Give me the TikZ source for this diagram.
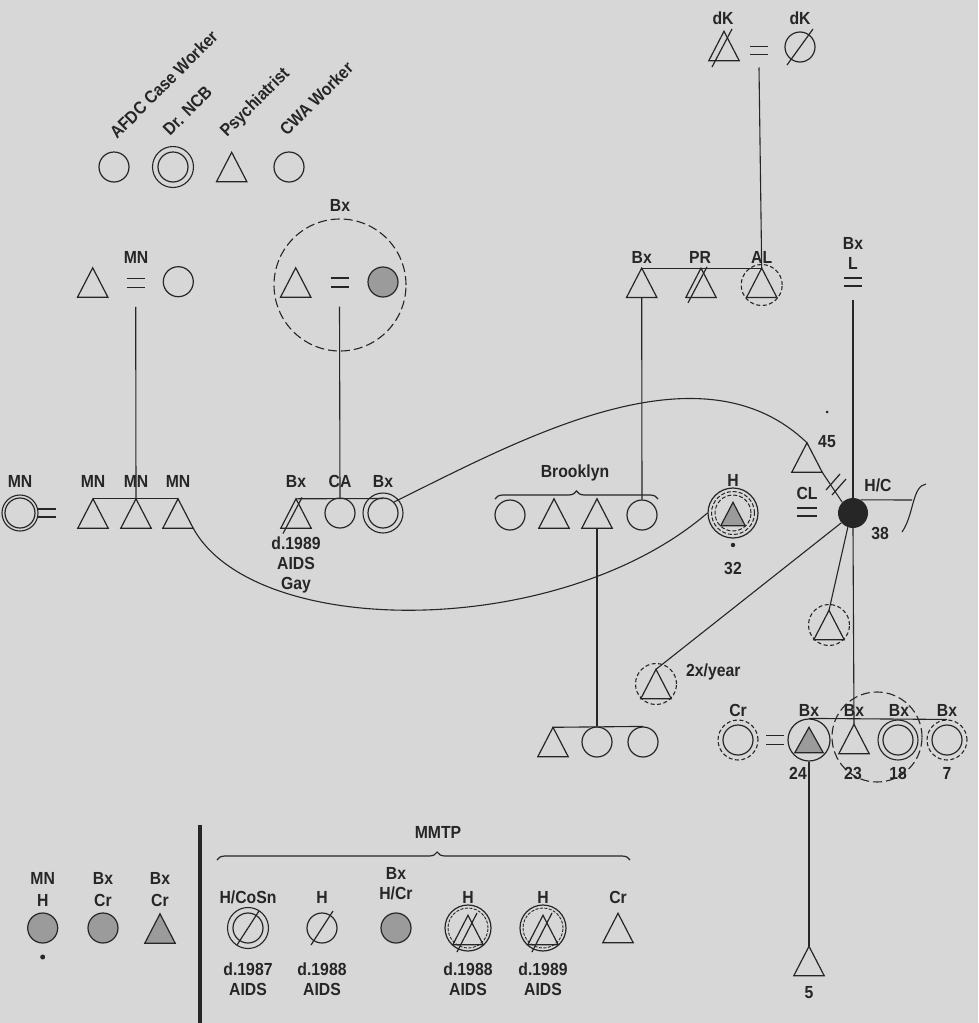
\documentclass[tikz,border=0pt]{standalone}
\usepackage{fontspec}
\newfontfamily\lf{Liberation Sans}[FakeStretch=0.9]
\usetikzlibrary{decorations.pathreplacing,calc}
\definecolor{bg}{RGB}{215,215,215}
\definecolor{inkc}{RGB}{38,38,38}
\definecolor{shade}{RGB}{155,155,155}
\newcommand\tri[3][]{\node[tribox] (#2) at (#3) {};
  \draw[ink,#1] (#2.north) -- (#2.south east) -- (#2.south west) -- cycle;}
\newcommand\eqs[3]{\coordinate (#1) at (#2);
  \draw[ink] ([shift={(-9,-#3/2)}]#1) -- ([shift={(9,-#3/2)}]#1);
  \draw[ink] ([shift={(-9,#3/2)}]#1) -- ([shift={(9,#3/2)}]#1);}
\begin{document}
\begin{tikzpicture}[x=1pt,y=-1pt,
  ink/.style={draw=inkc,line width=1.2pt},
  conn/.style={draw=inkc,line width=1.1pt},
  circ/.style={circle,draw=inkc,line width=1.2pt,minimum size=30pt,inner sep=0pt},
  ring/.style={circle,draw=inkc,line width=1.1pt,minimum size=41pt,inner sep=0pt},
  dring/.style={ring,dash pattern=on 4pt off 2.5pt},
  tribox/.style={rectangle,draw=none,minimum width=30pt,minimum height=29pt,inner sep=0pt},
  lbl/.style={font=\lf\bfseries\fontsize{17.5}{20}\selectfont,inner sep=0pt,text=inkc,align=center},
  shaded/.style={fill=shade},
  brc/.style={ink,decorate,decoration={brace,amplitude=8pt}}]
\fill[bg] (0,0) rectangle (978,1023);
\useasboundingbox (0,0) rectangle (978,1023);

% ---------- top legend ----------
\node[circ] (afdc) at (114,167) {};
\node[ring] (ncbo) at (173,167) {};
\node[circ] (ncb) at (173,167) {};
\tri{psy}{231.7,167}
\node[circ] (cwa) at (289,167) {};
\node[lbl,rotate=45,anchor=base west] (lafdc) at (117,140) {AFDC Case Worker};
\node[lbl,rotate=45,anchor=base west] (lncb) at (170,137) {Dr. NCB};
\node[lbl,rotate=45,anchor=base west] (lpsy) at (227,138) {Psychiatrist};
\node[lbl,rotate=45,anchor=base west] (lcwa) at (287,137) {CWA Worker};

% ---------- MN couple ----------
\tri{mnf}{92.7,282.5}
\eqs{mneq}{135.7,282.8}{9}
\node[circ] (mnm) at (178.3,281.7) {};
\node[lbl] (lmn) at (136,257) {MN};

% ---------- Bx couple ----------
\node[circle,draw=inkc,line width=1.1pt,dash pattern=on 9pt off 4pt,minimum size=132pt] (bxring) at (340,285) {};
\tri{bxf}{295.7,282.5}
\eqs{bxeq}{339.5,282.5}{9}
\node[circ,shaded] (bxm) at (383,282) {};
\node[lbl] (lbxr) at (340,205) {Bx};

% ---------- Bx PR AL ----------
\tri{bxs}{641.7,282.8}
\tri{pr}{701,282.8}
\draw[ink] ([shift={(-13,20)}]pr.center) -- ([shift={(6,-16)}]pr.center);
\tri{al}{761.7,282.8}
\node[dring] (alr) at (761.7,285) {};
\node[lbl] (lbxs) at (641.7,257) {Bx};
\node[lbl] (lpr) at (700,257) {PR};
\node[lbl] (lal) at (761.7,257) {AL};
\draw[conn] (bxs.north) -- (al.north);

% ---------- dK couple ----------
\tri{dk1}{724,46}
\draw[ink] ([shift={(-12,21)}]dk1.center) -- ([shift={(8,-17)}]dk1.center);
\eqs{dkeq}{759,50.5}{7.5}
\node[circ] (dk2) at (800,47) {};
\draw[ink] ([shift={(-13,18)}]dk2.center) -- ([shift={(13,-18)}]dk2.center);
\node[lbl] (ldk1) at (723,18) {dK};
\node[lbl] (ldk2) at (800,18) {dK};
\draw[conn] ([yshift=-17pt]dkeq) -- (al.north);

% ---------- L ----------
\node[lbl] (lbxl) at (853,243) {Bx};
\node[lbl] (ll) at (853,263) {L};
\eqs{leq}{853,282}{8}

% ---------- main row: MN ----------
\node[circ] (mnw) at (20,513) {};
\node[circle,draw=inkc,line width=1.1pt,minimum size=36pt,inner sep=0pt] (mnwo) at (20,513) {};
\eqs{mnweq}{47,513}{8}
\tri{mn1}{93,513.5}
\tri{mn2}{136,513.5}
\tri{mn3}{178,513.5}
\node[lbl] at (20,481) {MN};
\node[lbl] at (93,481) {MN};
\node[lbl] at (136,481) {MN};
\node[lbl] at (178,481) {MN};
\draw[conn] (mn1.north) -- (mn3.north);
\draw[conn] ([yshift=-24pt]mneq) -- (mn2.north);

% ---------- main row: Bx CA Bx ----------
\tri{bx1}{296,513.5}
\draw[ink] ([shift={(-13,20)}]bx1.center) -- ([shift={(6,-16)}]bx1.center);
\node[circ] (ca) at (340,513) {};
\node[ring,minimum size=40pt] (bx3o) at (383,513) {};
\node[circ] (bx3) at (383,513) {};
\node[lbl] at (296,481) {Bx};
\node[lbl] at (340,481) {CA};
\node[lbl] at (383,481) {Bx};
\node[lbl] (dbx1) at (296,565) {d.1989\\AIDS\\Gay};
\coordinate (bx3top) at (383,498.5);
\draw[conn] (bx1.north) -- (bx3top);
\draw[conn] ([yshift=-24pt]bxeq) -- (ca.north);

% ---------- Brooklyn ----------
\node[circ] (br1) at (510,515) {};
\tri{br2}{554,513.5}
\tri{br3}{597,513.5}
\node[circ] (br4) at (642,515) {};
\draw[brc] (495,499) -- (658,499);
\node[lbl] (lbr) at (575,473) {Brooklyn};
\draw[conn] (bxs.south) -- (br4.north);

% ---------- H node ----------
\node[circle,draw=inkc,line width=1.2pt,minimum size=50pt,inner sep=0pt] (h32) at (733,513) {};
\node[circle,draw=inkc,line width=1pt,dash pattern=on 4pt off 2pt,minimum size=43pt,inner sep=0pt] (h32b) at (733,513) {};
\node[circle,draw=inkc,line width=1pt,dash pattern=on 4pt off 2pt,minimum size=36pt,inner sep=0pt] (h32c) at (733,513) {};
\node[tribox,minimum width=24pt,minimum height=23pt] (h32t) at (733,514) {};
\draw[ink,fill=shade] (h32t.north) -- (h32t.south east) -- (h32t.south west) -- cycle;
\fill[inkc] (733,545) circle[radius=2.2];
\node[lbl] (lh) at (733,480) {H};
\node[lbl] (l32) at (733,568) {32};

% ---------- 45 / CL / 38 ----------
\tri{t45}{807,457.5}
\node[lbl] (l45) at (827,442) {45};
\fill[inkc] (827,412) circle[radius=1.5];
\node[circle,fill=inkc,minimum size=30pt,inner sep=0pt] (hc) at (853,513) {};
\node[lbl] (lhc) at (878,485) {H/C};
\node[lbl] (l38) at (880,533) {38};
\node[lbl] (lcl) at (807,493) {CL};
\draw[inkc,line width=2.4pt] (797,508) -- (817,508);
\draw[inkc,line width=2.4pt] (797,516) -- (817,516);
\draw[conn] (t45.south east) -- (hc.135);
\draw[ink] (826,490) -- (840,474);
\draw[ink] (832,495) -- (846,479);
\draw[conn] ([yshift=-18pt]leq) -- (hc.north);
\coordinate (hcend) at (912,500);
\draw[conn] (hc.60) -- (hcend);
\draw[conn] (926,484) .. controls (912,486) and (914,515) .. (902,532);

% ---------- curves ----------
\draw[conn] (bx3.45) .. controls (520,440) and (700,340) .. (t45.north);
\draw[conn] (mn3.south east) .. controls (255,640) and (560,640) .. (h32.west);

% ---------- children of Brooklyn ----------
\tri{k1}{553,742}
\node[circ] (k2) at (597,742) {};
\node[circ] (k3) at (643,742) {};
\draw[conn] (k1.north) -- (k3.north);
\draw[conn] (br3.south) -- (k2.north);

% ---------- 2x/year and dashed triangle ----------
\tri{tw}{656,684}
\node[dring] (twr) at (656,684) {};
\node[lbl,anchor=west] (ltw) at (686,672) {2x/year};
\draw[conn] (tw.north) -- (hc.220);
\tri{td}{829,625}
\node[dring] (tdr) at (829,625) {};
\draw[conn] (td.north) -- (hc.250);

% ---------- bottom right row ----------
\node[circ] (cr) at (738,740) {};
\node[dring,minimum size=40pt] (crr) at (738,740) {};
\eqs{creq}{775,740}{9}
\node[circle,draw=inkc,line width=1.2pt,minimum size=42pt,inner sep=0pt] (b24) at (809,740) {};
\node[tribox,minimum width=28pt,minimum height=25pt] (b24t) at (809,740) {};
\draw[ink,fill=shade] (b24t.north) -- (b24t.south east) -- (b24t.south west) -- cycle;
\tri{b23}{854,739}
\node[ring,minimum size=40pt] (b18o) at (898,740) {};
\node[circ] (b18) at (898,740) {};
\node[dring,minimum size=40pt] (b7o) at (947,740) {};
\node[circ] (b7) at (947,740) {};
\node[circle,draw=inkc,line width=1.1pt,dash pattern=on 9pt off 4pt,minimum size=90pt] (sibr) at (877,737) {};
\node[lbl] at (738,710) {Cr};
\node[lbl] at (809,710) {Bx};
\node[lbl] at (854,710) {Bx};
\node[lbl] at (899,710) {Bx};
\node[lbl] at (947,710) {Bx};
\node[lbl] at (798,773) {24};
\node[lbl] at (853,773) {23};
\node[lbl] at (898,773) {18};
\node[lbl] at (947,773) {7};
\draw[conn] (b24.north) -- (b7o.north);
\draw[conn] (hc.south) -- (b23.north);
\tri{b5}{809,961}
\node[lbl] at (809,993) {5};
\draw[conn] (b24.south) -- (b5.north);

% ---------- bottom legend ----------
\node[circ,shaded] (lg1) at (42.7,928) {};
\fill[inkc] (42.7,957) circle[radius=2.5];
\node[lbl] at (42.7,878) {MN};
\node[lbl] at (42.7,900) {H};
\node[circ,shaded] (lg2) at (103,928) {};
\node[lbl] at (103,878) {Bx};
\node[lbl] at (103,900) {Cr};
\tri[fill=shade]{lg3}{160,928.5}
\node[lbl] at (160,878) {Bx};
\node[lbl] at (160,900) {Cr};
\draw[inkc,line width=4pt] (200,825) -- (200,1023);
\draw[ink,decorate,decoration={brace,amplitude=8pt,aspect=0.533}] (217,860) -- (630,860);
\node[lbl] (lmmtp) at (438,832) {MMTP};
% H/CoSn
\node[ring] (m1o) at (248,928) {};
\node[circ] (m1) at (248,928) {};
\draw[ink] ([shift={(-11,17)}]m1.center) -- ([shift={(11,-17)}]m1.center);
\node[lbl] at (248,897) {H/CoSn};
\node[lbl] at (248,979) {d.1987\\AIDS};
% H
\node[circ] (m2) at (322,928) {};
\draw[ink] ([shift={(-11,17)}]m2.center) -- ([shift={(11,-17)}]m2.center);
\node[lbl] at (322,897) {H};
\node[lbl] at (322,979) {d.1988\\AIDS};
% Bx H/Cr
\node[circ,shaded] (m3) at (396,928) {};
\node[lbl] at (396,884) {Bx\\H/Cr};
% H d.1988
\node[circle,draw=inkc,line width=1.2pt,minimum size=46pt,inner sep=0pt] (m4o) at (468,928) {};
\node[circle,draw=inkc,line width=0.9pt,dash pattern=on 3pt off 1.5pt,minimum size=40pt,inner sep=0pt] (m4i) at (468,928) {};
\tri{m4}{468,930}
\draw[ink] ([shift={(-11,22)}]m4.center) -- ([shift={(9,-17)}]m4.center);
\node[lbl] at (468,897) {H};
\node[lbl] at (468,979) {d.1988\\AIDS};
% H d.1989
\node[circle,draw=inkc,line width=1.2pt,minimum size=46pt,inner sep=0pt] (m5o) at (543,928) {};
\node[circle,draw=inkc,line width=0.9pt,dash pattern=on 3pt off 1.5pt,minimum size=40pt,inner sep=0pt] (m5i) at (543,928) {};
\tri{m5}{543,930}
\draw[ink] ([shift={(-11,22)}]m5.center) -- ([shift={(9,-17)}]m5.center);
\node[lbl] at (543,897) {H};
\node[lbl] at (543,979) {d.1989\\AIDS};
% Cr
\tri{m6}{618,928}
\node[lbl] at (618,897) {Cr};
\end{tikzpicture}
\end{document}
